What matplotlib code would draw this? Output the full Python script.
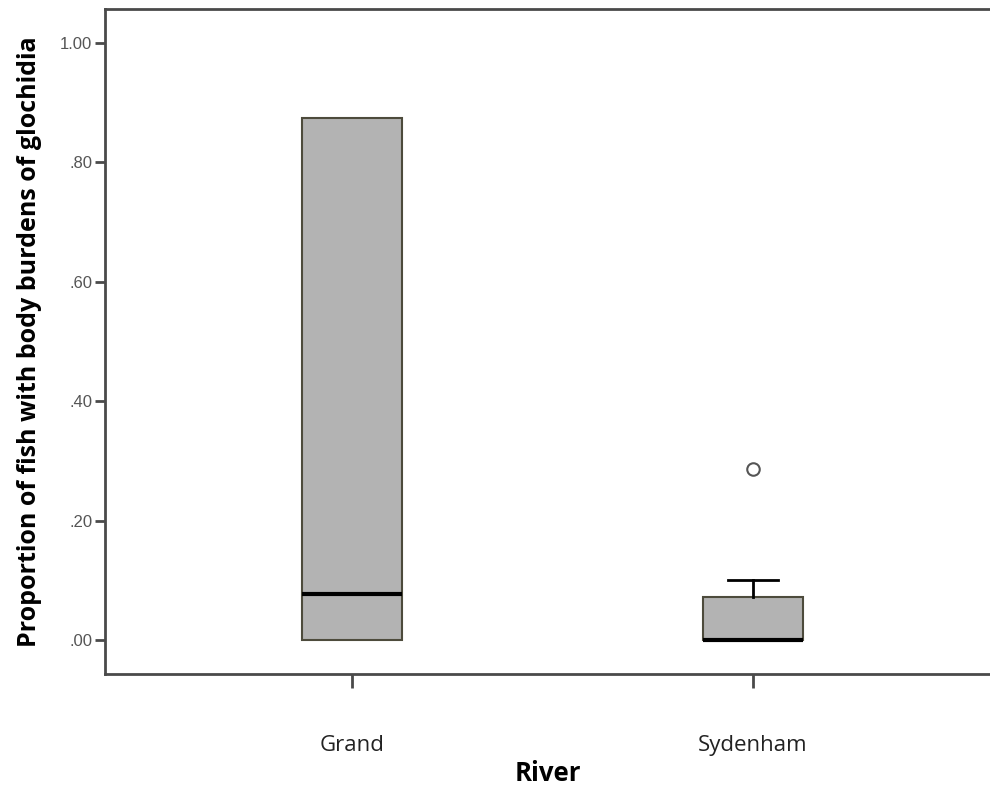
import matplotlib
matplotlib.use("Agg")
import matplotlib.pyplot as plt

# Summary statistics per river (proportion of fish carrying glochidia)
rivers = ["Grand", "Sydenham"]
q1 = [0.0, 0.0]
medians = [0.077, 0.0]
q3 = [0.874, 0.072]
whisker_low = [0.0, 0.0]
whisker_high = [0.874, 0.100]
outliers = [[], [0.286]]

y_ticks = [0.0, 0.2, 0.4, 0.6, 0.8, 1.0]
y_tick_labels = [".00", ".20", ".40", ".60", ".80", "1.00"]

stats = []
for i, name in enumerate(rivers):
    stats.append(dict(label=name, q1=q1[i], med=medians[i], q3=q3[i],
                      whislo=whisker_low[i], whishi=whisker_high[i],
                      fliers=outliers[i]))

# caps only where the whisker extends beyond the box
cap_widths = [0.127 if whisker_high[i] > q3[i] else 0.0 for i in range(len(rivers))]

fig = plt.figure(figsize=(9.9, 7.87), dpi=100)
ax = fig.add_axes([0.106, 0.1436, 0.894, 0.845])

axis_color = "#4a4a4a"
ax.bxp(stats, positions=[0, 1], widths=0.25, patch_artist=True,
       boxprops=dict(facecolor="#b3b3b3", edgecolor="#4d4b3c", linewidth=1.5),
       medianprops=dict(color="black", linewidth=3),
       whiskerprops=dict(color="black", linewidth=2),
       capprops=dict(color="black", linewidth=2),
       capwidths=cap_widths,
       flierprops=dict(marker="o", markersize=9, markerfacecolor="white",
                       markeredgecolor="#555555", markeredgewidth=1.5))

ax.set_xlim(-0.616, 1.591)
ax.set_ylim(-0.057, 1.057)

ax.set_yticks(y_ticks)
ax.set_yticklabels(y_tick_labels, fontfamily="Liberation Sans", fontsize=12,
                   color="#555555")
ax.set_xticks([0, 1])
ax.set_xticklabels(rivers, fontfamily="Open Sans", fontsize=16, color="#222222")

ax.tick_params(axis="y", direction="out", length=7, width=2, color=axis_color, pad=2)
ax.tick_params(axis="x", direction="out", length=10, width=2, color=axis_color, pad=34)

for side in ["left", "top", "bottom"]:
    ax.spines[side].set_color(axis_color)
    ax.spines[side].set_linewidth(2)
ax.spines["right"].set_visible(False)

ax.set_ylabel("Proportion of fish with body burdens of glochidia",
              fontfamily="Open Sans", fontweight="bold", fontsize=18, labelpad=13)
ax.set_xlabel("River", fontfamily="Open Sans", fontweight="bold", fontsize=18.5,
              labelpad=3)

fig.savefig("out.png", dpi=100)
